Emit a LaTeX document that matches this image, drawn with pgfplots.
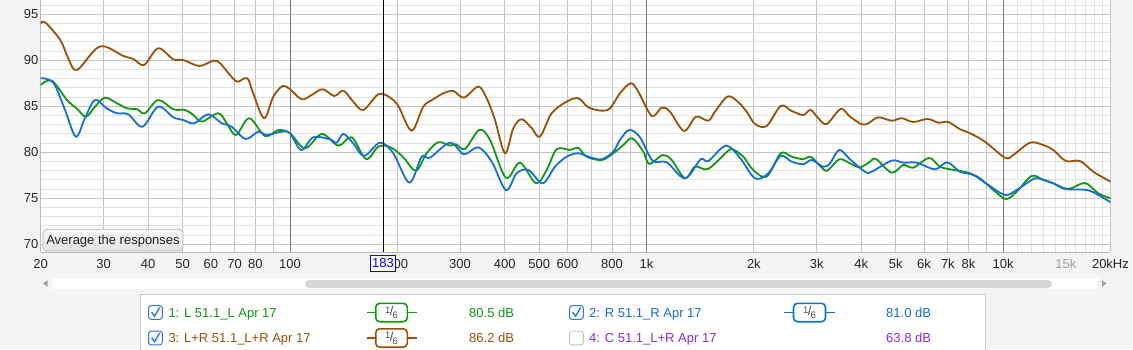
\documentclass[border=0pt]{standalone}
\usepackage{pgfplots}
\pgfplotsset{compat=1.18}
\usepackage{fontspec}
\setmainfont{Liberation Sans}
\definecolor{cG}{RGB}{20,150,20}
\definecolor{cB}{RGB}{22,110,214}
\definecolor{cBr}{RGB}{155,80,8}
\definecolor{cP}{RGB}{132,44,238}
\definecolor{bgc}{RGB}{244,244,244}
\definecolor{gmin}{RGB}{226,226,226}
\definecolor{gmaj}{RGB}{196,196,196}
\definecolor{gdec}{RGB}{120,120,120}
\definecolor{chk}{RGB}{40,120,230}

\pgfplotstableread{
f db
20 87.32
21.5 87.78
23.7 85.68
25.2 84.78
26.8 83.87
28.4 84.96
30.3 85.94
32.7 85.33
34.9 84.78
37.3 84.67
39.2 84.24
42.7 85.68
47.1 84.67
50.8 84.6
53.6 84.05
56.6 83.33
63 84.24
66.5 83.15
70.6 81.88
76.9 83.7
85.1 81.77
92.8 82.42
100 82.07
110.2 80.43
122.8 81.99
136.7 80.72
149 81.63
163.5 79.27
176.9 80.61
190 80.6
203.5 79.81
210.2 79.24
225.8 78.0
241.8 79.89
260.6 81.09
281 80.72
292.2 80.87
309.7 80.36
339.6 82.42
364 81.34
403.4 77.24
441.8 78.87
489.8 76.63
524.8 78.08
559.8 80.33
610 80.25
643.8 80.47
679.4 79.52
748.6 79.16
806.8 79.89
860.8 80.79
912 81.52
979.4 80.07
1018 78.73
1110 79.7
1176.6 79.16
1282 77.17
1368 78.43
1490 78.2
1695 80.17
1759 80.25
1868 79.52
1992 78.08
2172 77.35
2379 79.89
2552 79.52
2752 79.24
2886 79.52
3064 78.54
3212 78.0
3472 79.24
3720 78.8
3968 78.37
4234 78.98
4400 79.27
4870 77.78
5248 78.62
5598 78.33
6208 79.38
6652 78.43
7250 78.08
7984 77.78
8610 77.17
9386 75.9
10186 74.92
10916 75.72
12024 77.42
12960 76.99
13820 76.63
15230 76.01
16964 76.66
18490 75.54
20000 75.0
}\tabL

\pgfplotstableread{
f db
20 88.04
20.8 87.97
21.9 87.32
23.4 84.6
25.1 81.7
26.6 83.7
28.4 85.68
30.6 84.78
32.7 84.24
35.2 84.13
38.6 82.78
42.7 84.96
47.1 83.8
50.2 83.51
53.9 83.15
59 84.13
64.4 83.15
68.6 82.78
75.1 81.45
81.5 82.24
86 81.88
94.8 82.24
100 82.07
107.6 80.25
116.3 81.63
129.5 81.41
135.2 81.04
141.2 81.99
150.5 80.98
161.4 79.6
178.9 81.04
194.9 79.89
216.2 76.7
234 79.52
247 79.41
281 81.04
307.6 79.78
337.4 80.54
368 78.98
403.4 75.9
432.4 77.72
466.2 78.08
511.4 76.63
553.8 78.43
597 79.52
643.8 79.89
694 79.46
748.6 79.24
806.8 80.07
842.4 81.34
894.6 82.42
958.4 81.63
1040 79.09
1139 78.91
1282 77.17
1418 79.24
1490 79.05
1670 80.72
1828 79.4
2014 77.17
2194 77.72
2379 79.6
2552 78.98
2752 78.7
2904 79.16
3130 78.43
3270 78.8
3472 80.25
3720 79.24
4098 77.89
4278 77.89
4870 79.09
5248 78.87
5722 78.87
6440 78.15
6974 78.91
7568 77.89
8246 77.53
9086 76.45
10120 75.36
10916 75.9
12024 76.99
12548 77.17
13820 76.63
14910 76.01
17152 75.9
18490 75.36
20000 74.57
}\tabR

\pgfplotstableread{
f db
20 94.0
20.6 94.1
22.7 92.2
23.9 90.2
25.3 88.95
29.3 91.5
34.1 90.47
36.4 90.14
39 89.49
42.7 91.3
47.1 90.1
50.2 90.03
55.7 89.38
61 89.96
63.7 89.67
67.9 88.4
71.2 87.67
75.9 88.04
78.9 86.4
84.6 83.7
89.8 86.04
95.4 87.2
100 86.85
107.9 85.76
115.1 86.23
123.5 86.85
133.2 86.12
141.2 86.7
150.5 85.5
160.6 84.6
176.9 86.3
190 86.0
201.3 85.03
219.4 82.35
236.6 84.96
252.4 85.76
269.2 86.41
287.2 86.66
307.6 85.94
337.4 87.13
356.2 85.87
375.8 83.51
400.9 79.89
423 82.61
446.6 83.59
476.6 82.61
502.6 81.7
542 84.24
597 85.5
643.8 85.87
686.4 84.89
748.6 84.52
790 84.78
842.4 86.41
902.6 87.5
948 86.59
1034 83.95
1102.6 84.85
1163.6 84.41
1273.6 82.32
1376 83.87
1490 83.43
1556 84.41
1684.4 86.04
1790 85.61
1909 84.41
2014 83.08
2172 82.86
2379 85.03
2552 84.49
2752 84.05
2886 84.6
3032 83.7
3202 83.08
3504 84.71
3720 83.87
4012 83.04
4186 83.15
4466 83.8
4870 83.43
5196 83.7
5598 83.29
6144 83.62
6578 83.22
7020 83.29
7568 82.5
8072 82.07
8892 81.15
10120 79.41
10680 79.7
11894 81.04
12960 80.79
13820 80.25
15004 79.05
16426 79.05
17900 77.89
20000 76.8
}\tabLR

\newcommand{\sixth}{{\fontsize{9.5}{9.5}\selectfont\raisebox{2.6pt}{1}\kern-0.6pt{\fontsize{13}{13}\selectfont/}\kern-0.8pt\raisebox{-2.8pt}{6}}}
\newcommand{\lf}{\fontsize{13}{15}\selectfont}

\begin{document}
\begin{tikzpicture}[x=1pt,y=1pt]
\useasboundingbox (0,0) rectangle (1133,349);
\clip (0,0) rectangle (1133,349);
\fill[bgc] (0,0) rectangle (1133,349);

\begin{axis}[
  at={(40.7pt,97pt)}, anchor=south west,
  scale only axis, width=1069.8pt, height=252pt,
  xmode=log, xmin=20, xmax=20000, ymin=69.16, ymax=96.55,
  axis background/.style={fill=white},
  axis x line*=bottom, axis y line*=left,
  axis line style={draw=gray!55, -, line width=0.9pt},
  major tick length=0pt, minor tick length=0pt,
  grid=both,
  major grid style={draw=gmaj, line width=0.9pt},
  minor grid style={draw=gmin, line width=0.9pt},
  xtick={20,30,40,50,60,70,80,90,200,300,400,500,600,700,800,900,2000,3000,4000,5000,6000,7000,8000,9000,20000},
  xticklabels={20,30,40,50,60,70,80,{},200,300,400,500,600,{},800,{},2k,3k,4k,5k,6k,7k,8k,{},20kHz},
  minor xtick={11000,12000,13000,14000,15000,16000,17000,18000,19000},
  extra x ticks={100,1000,10000},
  extra x tick labels={100,1k,10k},
  extra x tick style={grid=major, major grid style={draw=gdec, line width=0.9pt}},
  ytick={70,75,80,85,90,95},
  yticklabels={70,75,80,85,90,95},
  minor ytick={71,72,73,74,76,77,78,79,81,82,83,84,86,87,88,89,91,92,93,94,96},
  /pgf/number format/assume math mode=true,
  tick label style={font=\lf, text=black!85},
  xticklabel style={yshift=-3.6pt},
  yticklabel style={xshift=1.1pt},
]
\addplot[cG, line width=1.8pt, smooth, tension=0.55] table[x=f,y=db] {\tabL};
\addplot[cBr, line width=1.8pt, smooth, tension=0.55] table[x=f,y=db] {\tabLR};
\addplot[cB, line width=1.8pt, smooth, tension=0.55] table[x=f,y=db] {\tabR};
\coordinate (curB) at (axis cs:183,69.16);
\coordinate (curT) at (axis cs:183,96.55);
\coordinate (k15) at (axis cs:15000,69.16);
\end{axis}

% 15k label (greyed)
\node[anchor=north, font=\lf, text=gray!75, yshift=-3.6pt, inner sep=0.333em] at (k15) {15k};

% cursor
\draw[black, line width=0.9pt] (curB) -- (curT);
\filldraw[fill=white, draw=blue, line width=0.8pt] (370.3,77.3) rectangle (395.7,94);
\node[text=blue, font=\lf, inner sep=0] at (383,85.6) {183};

% button
\draw[rounded corners=4pt, top color=gray!6, bottom color=gray!22, draw=gray!60, line width=0.7pt] (43,98) rectangle (183,119.7);
\node[font=\lf, text=black!88, inner sep=0, anchor=base] at (113,104.3) {Average the responses};

% scrollbar
\fill[white] (52,59.7) rectangle (1098,70.7);
\fill[gray!32, rounded corners=4pt] (305,61) rectangle (1052,69);
\fill[gray!75] (43,65.5) -- (47.5,68.7) -- (47.5,62.3) -- cycle;
\fill[gray!75] (1106.5,65.5) -- (1102,68.7) -- (1102,62.3) -- cycle;

% legend panel
\filldraw[fill=white, draw=gray!40, line width=0.8pt] (140,-3) rectangle (985,55);

\foreach \cy in {36.5,11} {
  \filldraw[fill=white, draw=chk, line width=1pt, rounded corners=2.5pt] (148.5,\cy-6.8) rectangle (162.3,\cy+6.8);
}
\draw[chk, line width=1.4pt] (151.6,36.8) -- (154.6,32.8) -- (159.6,41.5);
\draw[chk, line width=1.4pt] (151.6,11.3) -- (154.6,7.3) -- (159.6,16);
\filldraw[fill=white, draw=chk, line width=1pt, rounded corners=2.5pt] (569.5,29.7) rectangle (583.3,43.3);
\draw[chk, line width=1.4pt] (572.6,36.8) -- (575.6,32.8) -- (580.6,41.5);
\filldraw[fill=white, draw=gray!50, line width=0.9pt, rounded corners=2.5pt] (569.5,4.2) rectangle (583.3,17.8);

\node[font=\lf, text=cG, inner sep=0, anchor=base west] at (168.3,31.8) {1: L 51.1\_L Apr 17};
\node[font=\lf, text=cBr, inner sep=0, anchor=base west] at (168.3,6.3) {3: L+R 51.1\_L+R Apr 17};
\node[font=\lf, text=cB, inner sep=0, anchor=base west] at (589,31.8) {2: R 51.1\_R Apr 17};
\node[font=\lf, text=cP, inner sep=0, anchor=base west] at (589,6.3) {4: C 51.1\_L+R Apr 17};

\node[font=\lf, text=cG, inner sep=0, anchor=base west] at (469,31.8) {80.5 dB};
\node[font=\lf, text=cBr, inner sep=0, anchor=base west] at (469,6.3) {86.2 dB};
\node[font=\lf, text=cB, inner sep=0, anchor=base west] at (886,31.8) {81.0 dB};
\node[font=\lf, text=cP, inner sep=0, anchor=base west] at (886,6.3) {63.8 dB};

\draw[cG, line width=1.6pt] (366.7,36.5) -- (416.7,36.5);
\filldraw[fill=white, draw=cG, line width=1.6pt, rounded corners=4pt] (375.7,27.3) rectangle (407.3,45.7);
\node[text=black!70, inner sep=0] at (391.5,36.5) {\sixth};
\draw[cBr, line width=1.6pt] (366.7,11) -- (416.7,11);
\filldraw[fill=white, draw=cBr, line width=1.6pt, rounded corners=4pt] (375.7,1.8) rectangle (407.3,20.2);
\node[text=black!70, inner sep=0] at (391.5,11) {\sixth};
\draw[cB, line width=1.6pt] (784,36.5) -- (835,36.5);
\filldraw[fill=white, draw=cB, line width=1.6pt, rounded corners=4pt] (793.5,27.3) rectangle (825.5,45.7);
\node[text=black!70, inner sep=0] at (809.5,36.5) {\sixth};
\end{tikzpicture}
\end{document}
